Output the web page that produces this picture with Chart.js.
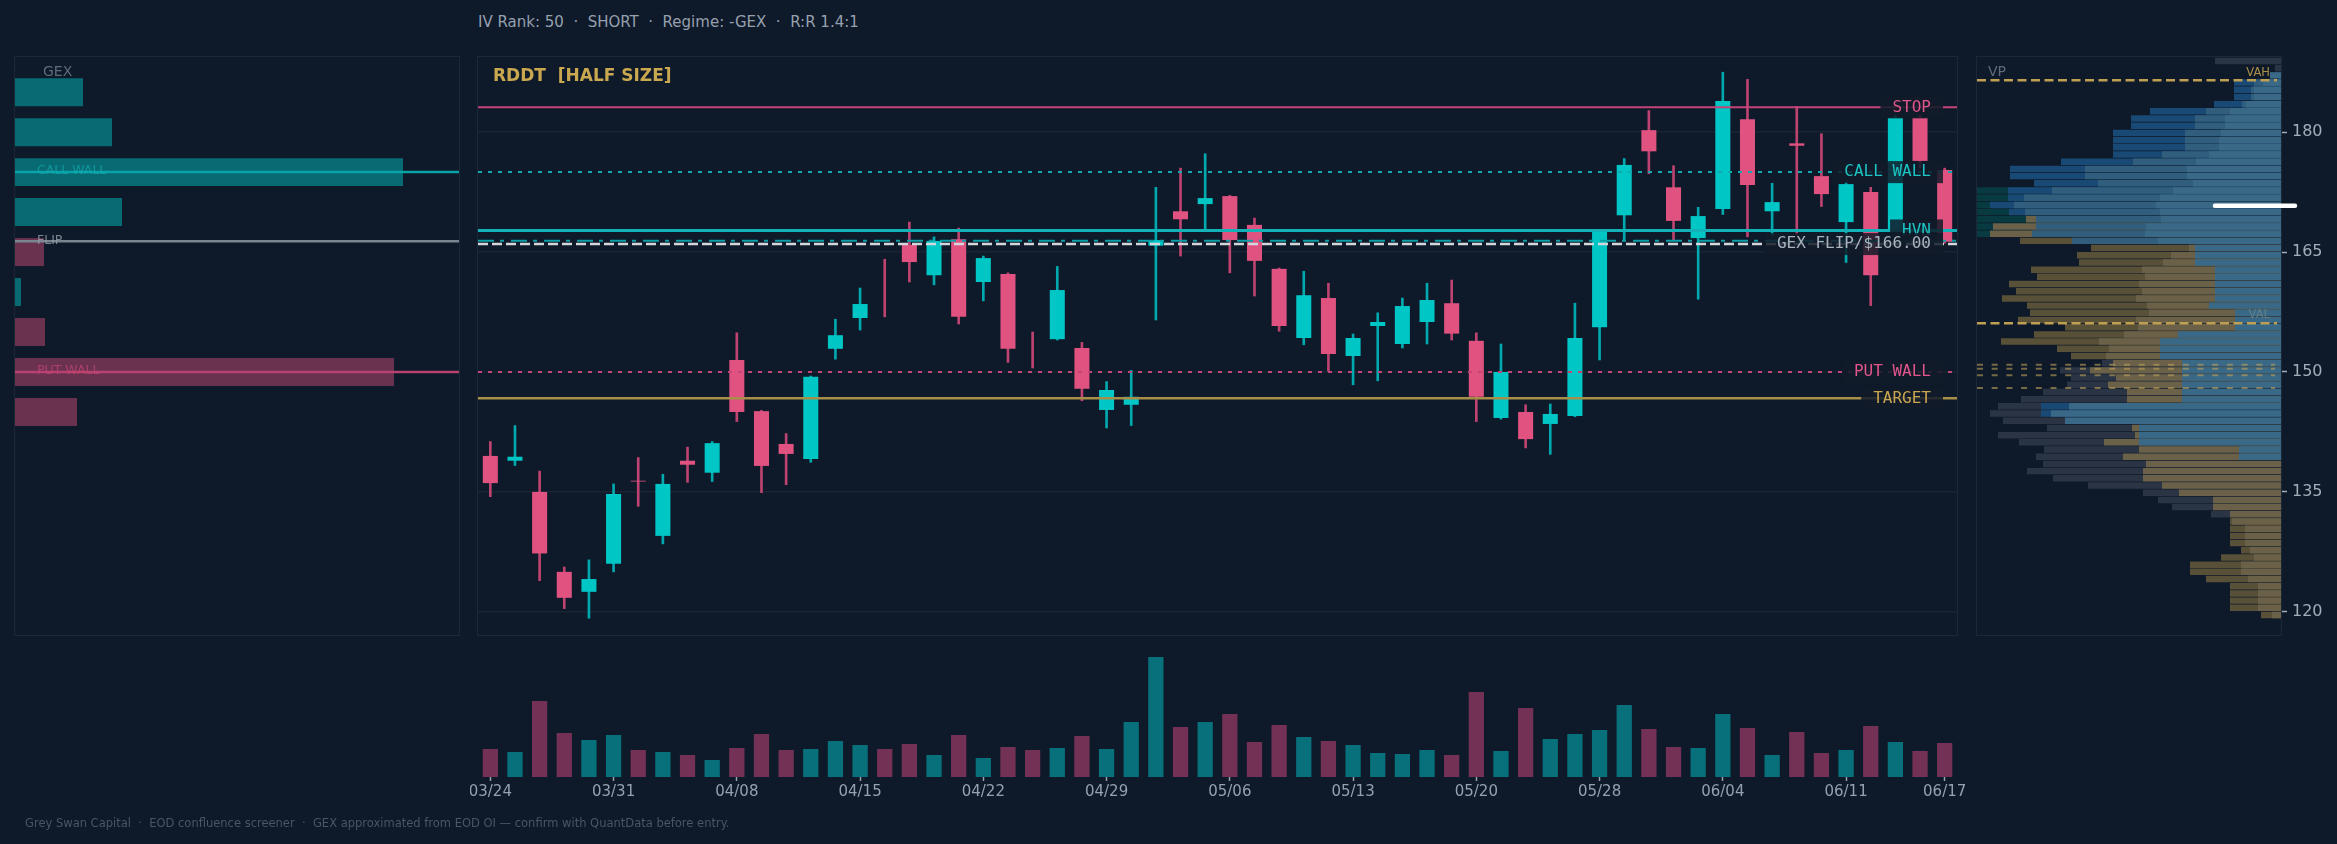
<!DOCTYPE html>
<html>
<head>
<meta charset="utf-8">
<title>RDDT confluence</title>
<script src="https://cdn.jsdelivr.net/npm/chart.js@4.4.1/dist/chart.umd.min.js"></script>
<style>
  html, body { margin: 0; padding: 0; background: #0e1929; }
  body { width: 2337px; height: 844px; position: relative; overflow: hidden; font-family: 'DejaVu Sans', sans-serif; }
  canvas { position: absolute; }
  #header { position: absolute; left: 478px; top: 13px; font-size: 15px; line-height: 18px; color: #96a0af; white-space: pre; }
  #footer { position: absolute; left: 25px; top: 816px; font-size: 11.5px; line-height: 14px; color: #4b5564; white-space: pre; }
</style>
</head>
<body>
<div id="header">IV Rank: 50  ·  SHORT  ·  Regime: -GEX  ·  R:R 1.4:1</div>
<canvas id="gex" width="470" height="590" style="left:0;top:50px"></canvas>
<canvas id="main" width="1495" height="590" style="left:470px;top:50px"></canvas>
<canvas id="vp" width="367" height="590" style="left:1970px;top:50px"></canvas>
<canvas id="vol" width="1495" height="204" style="left:470px;top:640px"></canvas>
<div id="footer">Grey Swan Capital  ·  EOD confluence screener  ·  GEX approximated from EOD OI — confirm with QuantData before entry.</div>

<script>
// ===============================
// Data
// ===============================

const title = "RDDT  [HALF SIZE]";

const dates = [
  "03/24","03/25","03/26","03/27","03/28","03/31","04/01","04/02","04/03","04/04",
  "04/08","04/09","04/10","04/11","04/14","04/15","04/16","04/17","04/18","04/21",
  "04/22","04/23","04/24","04/25","04/28","04/29","04/30","05/01","05/02","05/05",
  "05/06","05/07","05/08","05/09","05/12","05/13","05/14","05/15","05/16","05/19",
  "05/20","05/21","05/22","05/23","05/27","05/28","05/29","05/30","06/02","06/03",
  "06/04","06/05","06/06","06/09","06/10","06/11","06/12","06/13","06/16","06/17"
];
const tickDates = ["03/24","03/31","04/08","04/15","04/22","04/29","05/06","05/13","05/20","05/28","06/04","06/11","06/17"];

const opens = [
  139.5, 138.9, 135.0, 125.0, 122.5, 126.0, 136.4, 129.5, 138.9, 137.4,
  151.5, 145.1, 141.0, 139.1, 152.9, 156.75, 160.5, 165.9, 162.1, 166.6,
  161.25, 162.25, 152.8, 154.1, 153.0, 145.25, 145.9, 165.8, 170.1, 171.0,
  172.0, 168.4, 162.9, 154.25, 159.25, 152.0, 155.75, 153.5, 156.25, 158.6,
  153.9, 144.25, 145.0, 143.5, 144.5, 155.6, 169.6, 180.25, 173.1, 166.75,
  170.4, 181.6, 170.1, 178.6, 174.5, 168.75, 172.5, 167.9, 181.8, 175.25
];
const highs = [
  141.3, 143.3, 137.6, 125.6, 126.5, 136.0, 139.3, 137.2, 140.6, 141.3,
  154.9, 145.2, 142.3, 149.5, 156.6, 160.5, 164.1, 168.75, 166.9, 168.0,
  164.5, 162.4, 155.0, 163.2, 153.7, 148.8, 150.2, 173.1, 175.5, 177.3,
  172.1, 169.25, 163.0, 162.6, 161.1, 154.75, 157.4, 159.25, 161.1, 161.5,
  154.9, 153.5, 145.9, 146.0, 158.6, 167.7, 176.7, 182.7, 175.8, 170.6,
  187.5, 186.6, 173.6, 183.2, 179.8, 173.8, 173.1, 182.1, 182.1, 175.5
];
const lows = [
  134.4, 138.3, 123.9, 120.4, 119.2, 125.0, 133.2, 128.5, 136.2, 136.3,
  143.8, 134.9, 135.9, 138.7, 151.6, 155.25, 156.9, 161.25, 160.9, 156.0,
  158.9, 151.2, 150.5, 154.0, 146.4, 143.0, 143.3, 156.5, 164.5, 167.6,
  162.4, 159.5, 155.1, 153.4, 150.1, 148.4, 148.9, 153.0, 153.5, 154.0,
  143.8, 144.1, 140.5, 139.7, 144.4, 151.5, 166.4, 174.8, 166.5, 159.1,
  169.7, 166.9, 167.1, 167.1, 170.7, 163.7, 158.3, 167.75, 175.5, 166.1
];
const closes = [
  136.1, 139.4, 127.3, 121.75, 124.1, 134.75, 136.3, 136.0, 138.4, 141.1,
  145.0, 138.25, 139.75, 149.4, 154.6, 158.5, 160.5, 163.75, 166.4, 156.9,
  164.25, 152.9, 152.8, 160.25, 147.9, 147.75, 146.9, 166.5, 169.1, 171.75,
  166.5, 163.9, 155.75, 159.6, 152.25, 154.25, 156.25, 158.25, 159.0, 154.8,
  146.9, 150.0, 141.6, 144.75, 154.25, 167.6, 175.9, 177.6, 168.9, 169.5,
  183.9, 173.4, 171.25, 178.3, 172.25, 173.5, 162.1, 181.8, 176.4, 166.3
];
// volume, millions of shares
const volumes = [
  2.8, 2.5, 7.6, 4.4, 3.7, 4.2, 2.7, 2.5, 2.2, 1.7,
  2.9, 4.3, 2.7, 2.8, 3.6, 3.2, 2.8, 3.3, 2.2, 4.2,
  1.9, 3.0, 2.7, 2.9, 4.1, 2.8, 5.5, 12.0, 5.0, 5.5,
  6.3, 3.5, 5.2, 4.0, 3.6, 3.2, 2.4, 2.3, 2.7, 2.2,
  8.5, 2.6, 6.9, 3.8, 4.3, 4.7, 7.2, 4.8, 3.0, 2.9,
  6.3, 4.9, 2.2, 4.5, 2.4, 2.7, 5.1, 3.5, 2.6, 3.4
];

const priceTicks = [120, 135, 150, 165, 180];
const yMin = 117.1;
const yMax = 189.4;

// key levels on the price panel
const levelNames  = ["STOP", "CALL WALL", "HVN", "", "GEX FLIP/$166.00", "PUT WALL", "TARGET"];
const levelValues = [183.1, 175.0, 167.7, 166.4, 166.0, 150.0, 146.7];

// GEX by strike ($M, sign = call/put dominance)
const gexStrikes = [185, 180, 175, 170, 165, 160, 155, 150, 145];
const gexValues  = [6.8, 9.7, 38.8, 10.7, -2.9, 0.6, -3.0, -37.9, -6.2];
const gexLevelNames  = ["CALL WALL", "FLIP", "PUT WALL"];
const gexLevelValues = [175.0, 166.35, 150.0];

// volume profile, one row per price bin
const _ = null;
const vpPrices = [
  188.9, 188.0, 187.1, 186.2, 185.3, 184.4, 183.5, 182.6, 181.7, 180.8,
  179.9, 179.0, 178.1, 177.2, 176.3, 175.4, 174.5, 173.6, 172.7, 171.8,
  170.9, 170.0, 169.1, 168.2, 167.3, 166.4, 165.5, 164.6, 163.7, 162.8,
  161.9, 161.0, 160.1, 159.2, 158.3, 157.4, 156.5, 155.6, 154.7, 153.8,
  152.9, 152.0, 151.1, 150.2, 149.3, 148.4, 147.5, 146.6, 145.7, 144.8,
  143.9, 143.0, 142.1, 141.2, 140.3, 139.4, 138.5, 137.6, 136.7, 135.8,
  134.9, 134.0, 133.1, 132.2, 131.3, 130.4, 129.5, 128.6, 127.7, 126.8,
  125.9, 125.0, 124.1, 123.2, 122.3, 121.4, 120.5, 119.6
];
const vpGray = [
  66, 6, _, _, _, _, _, _, _, _,
  _, _, _, _, _, _, _, _, _, _,
  _, _, _, _, _, _, _, _, _, _,
  _, _, _, _, _, _, _, _, _, _,
  _, _, 179, 221, 210, 214, 238, 260, 283, 291,
  278, 234, 283, 262, 237, 245, 238, 254, 228, 193,
  138, 123, 109, 70, _, _, _, _, _, _,
  _, _, _, _, _, _, _, _
];
const vpKhakiDark = [
  _, _, _, _, _, _, _, _, _, _,
  _, _, _, _, _, _, _, _, _, _,
  _, _, _, _, _, 261, 190, 204, 202, 250,
  244, 272, 265, 279, 254, 251, 263, 216, 247, 280,
  224, 210, _, _, _, _, _, _, _, _,
  _, _, _, _, _, _, _, _, _, _,
  _, _, _, _, 51, 51, 51, 51, 40, 60,
  91, 91, 75, 51, 51, 51, 51, 20
];
const vpTeal = [
  _, _, _, _, _, _, _, _, _, _,
  _, _, _, _, _, _, _, _, 304, 304,
  304, 304, 304, 304, 304, _, _, _, _, _,
  _, _, _, _, _, _, _, _, _, _,
  _, _, _, _, _, _, _, _, _, _,
  _, _, _, _, _, _, _, _, _, _,
  _, _, _, _, _, _, _, _, _, _,
  _, _, _, _, _, _, _, _
];
const vpDarkBlue = [
  _, _, _, 47, 47, 47, 67, 131, 150, 150,
  168, 168, 168, 168, 220, 271, 271, 247, 273, 273,
  291, 272, _, _, _, _, _, _, _, _,
  _, _, _, _, _, _, _, _, _, _,
  _, _, _, _, _, _, _, _, 240, 240,
  _, _, _, _, _, _, _, _, _, _,
  _, _, _, _, _, _, _, _, _, _,
  _, _, _, _, _, _, _, _
];
const vpKhakiLight = [
  _, _, _, _, _, _, _, _, _, _,
  _, _, _, _, _, _, _, _, _, _,
  _, _, 255, 288, 291, _, 92, 110, 118, 139,
  136, 142, 139, 145, 134, 132, 145, 143, 157, 182,
  172, 175, 168, 191, 165, 173, 154, 154, _, _,
  _, 149, 146, 177, 142, 158, 135, 138, 138, 119,
  102, 68, 68, 51, 49, 36, 36, 36, 31, 27,
  40, 40, 33, 23, 23, 23, 23, 9
];
const vpMidBlue = [
  _, _, _, 27, 30, 30, 39, 75, 86, 86,
  96, 96, 96, 119, 148, 196, 196, 183, 229, 257,
  267, 256, 245, 245, 249, 209, _, _, _, _,
  _, _, _, _, _, _, _, _, _, _,
  _, _, _, _, _, _, _, _, _, _,
  _, _, _, _, _, _, _, _, _, _,
  _, _, _, _, _, _, _, _, _, _,
  _, _, _, _, _, _, _, _
];
const vpLightBlue = [
  _, _, 11, 18, 27, 27, 35, 51, 56, 56,
  60, 62, 62, 72, 85, 94, 94, 88, 108, 121,
  125, 121, 120, 135, 136, 123, 86, 86, 86, 66,
  66, 66, 66, 66, 72, 46, 46, 46, 103, 121,
  121, 121, 99, 99, 99, 99, 99, 99, 212, 230,
  216, 142, 142, 142, 42, 42, _, _, _, _,
  _, _, _, _, _, _, _, _, _, _,
  _, _, _, _, _, _, _, _
];
const vahValue = 186.5;
const valValue = 156.1;
const vpEntryLevels = [150.9, 150.4, 149.6, 148.0];
const lastMark = 170.8;

// ===============================
// Styles
// ===============================

Chart.defaults.font.family = "'DejaVu Sans', sans-serif";
Chart.defaults.color = "#96a0af";

const FRAME = "#1c2838";
const GRID = "#1a2534";
const UP = "#00c6c6", DOWN = "#e05381";
const UP_WICK = "#00a9ae", DOWN_WICK = "#bd4370";
const UP_VOL = "#08707a", DOWN_VOL = "#733255";

const levelStyles = [
  { color: "#c4447a", width: 2,   dash: [],            text: "#e0558a" },
  { color: "#13a9ae", width: 2,   dash: [4, 6],        text: "#1cc4c4" },
  { color: "#12b2b8", width: 3,   dash: [],            text: "#1cc4c4" },
  { color: "#0d9ea6", width: 2,   dash: [16, 6, 4, 7], text: null },
  { color: "#d3d7dc", width: 2.5, dash: [10, 4],       text: "#aab3bd" },
  { color: "#c4447a", width: 2,   dash: [4, 6],        text: "#e0558a" },
  { color: "#a78f4a", width: 2.5, dash: [],            text: "#c9a550" }
];
const gexLineColors = ["#0aa3a8", "#7a8592", "#b8426f"];
const gexTextColors = ["rgba(20,175,180,0.65)", "rgba(150,160,170,0.8)", "rgba(200,70,115,0.7)"];

const isUp = i => closes[i] > opens[i];

function hline(ctx, x0, x1, y, color, width, dash) {
  ctx.save();
  ctx.strokeStyle = color;
  ctx.lineWidth = width;
  ctx.setLineDash(dash);
  ctx.beginPath();
  ctx.moveTo(x0, y);
  ctx.lineTo(x1, y);
  ctx.stroke();
  ctx.restore();
}

const framePlugin = {
  id: "frame",
  beforeDatasetsDraw(chart) {
    const a = chart.chartArea, ctx = chart.ctx;
    ctx.save();
    ctx.strokeStyle = FRAME;
    ctx.lineWidth = 1;
    ctx.strokeRect(Math.round(a.left) - 0.5, Math.round(a.top) - 0.5, Math.round(a.width) + 1, Math.round(a.height) + 1);
    ctx.restore();
  }
};

const fixedPriceTicks = s => { s.ticks = priceTicks.map(v => ({ value: v })); };

const baseOpts = {
  animation: false,
  responsive: false,
  devicePixelRatio: 1,
  events: [],
  plugins: { legend: { display: false }, tooltip: { enabled: false } }
};

// ===============================
// Price panel
// ===============================

const mainLevelsPlugin = {
  id: "mainLevels",
  afterDatasetsDraw(chart) {
    const { ctx, chartArea: a } = chart;
    const y = chart.scales.y;
    levelValues.forEach((v, i) => {
      const st = levelStyles[i];
      hline(ctx, a.left, a.right, y.getPixelForValue(v), st.color, st.width, st.dash);
    });
    ctx.save();
    ctx.font = "16px 'DejaVu Sans Mono'";
    ctx.textAlign = "right";
    ctx.textBaseline = "middle";
    levelValues.forEach((v, i) => {
      const name = levelNames[i];
      if (!name) return;
      const py = y.getPixelForValue(v);
      const right = a.right - 26;
      const w = ctx.measureText(name).width;
      ctx.fillStyle = "rgba(17,27,41,0.85)";
      ctx.fillRect(right - w - 12, py - 11, w + 24, 22);
      ctx.fillStyle = levelStyles[i].text;
      ctx.fillText(name, right, py);
    });
    ctx.font = "bold 17px 'DejaVu Sans'";
    ctx.textAlign = "left";
    ctx.fillStyle = "#c9a84f";
    ctx.fillText(title, a.left + 15, a.top + 20);
    ctx.restore();
  }
};

new Chart(document.getElementById("main"), {
  type: "bar",
  data: {
    labels: dates,
    datasets: [
      {
        data: opens.map((o, i) => [o, closes[i]]),
        backgroundColor: dates.map((d, i) => isUp(i) ? UP : DOWN),
        borderWidth: 0,
        barPercentage: 0.61,
        categoryPercentage: 1,
        grouped: false,
        order: 0
      },
      {
        data: lows.map((l, i) => [l, highs[i]]),
        backgroundColor: dates.map((d, i) => isUp(i) ? UP_WICK : DOWN_WICK),
        borderWidth: 0,
        barThickness: 2,
        grouped: false,
        order: 1
      }
    ]
  },
  options: {
    ...baseOpts,
    layout: { padding: { left: 8, right: 8, top: 7, bottom: 5 } },
    scales: {
      x: { display: false, offset: true },
      y: {
        min: yMin, max: yMax,
        afterBuildTicks: fixedPriceTicks,
        afterFit: s => { s.width = 0; },
        ticks: { display: false },
        border: { display: false },
        grid: { color: GRID, lineWidth: 1.5, drawTicks: false }
      }
    }
  },
  plugins: [framePlugin, mainLevelsPlugin]
});

// ===============================
// Volume panel
// ===============================

new Chart(document.getElementById("vol"), {
  type: "bar",
  data: {
    labels: dates,
    datasets: [{
      data: volumes,
      backgroundColor: dates.map((d, i) => isUp(i) ? UP_VOL : DOWN_VOL),
      borderWidth: 0,
      barPercentage: 0.62,
      categoryPercentage: 1
    }]
  },
  options: {
    ...baseOpts,
    layout: { padding: { left: 8, right: 8, top: 5, bottom: 37 } },
    scales: {
      x: {
        offset: true,
        afterBuildTicks: s => { s.ticks = s.ticks.filter(t => tickDates.includes(dates[t.value])); },
        afterFit: s => { s.height = 30; s.paddingLeft = 0; s.paddingRight = 0; },
        ticks: { color: "#96a0af", font: { size: 15 }, autoSkip: false, maxRotation: 0, padding: 2 },
        grid: { offset: false, drawOnChartArea: false, drawTicks: true, tickLength: 4, tickColor: "#96a0af", tickWidth: 1.5 },
        border: { display: false }
      },
      y: { display: false, min: 0, max: 13.2 }
    }
  }
});

// ===============================
// GEX panel
// ===============================

const gexPlugin = {
  id: "gexLevels",
  afterDatasetsDraw(chart) {
    const { ctx, chartArea: a } = chart;
    const y = chart.scales.y;
    gexLevelValues.forEach((v, i) => {
      hline(ctx, a.left, a.right, y.getPixelForValue(v), gexLineColors[i], 2.5, []);
    });
    ctx.save();
    ctx.textAlign = "left";
    ctx.textBaseline = "middle";
    ctx.font = "12.5px 'DejaVu Sans'";
    gexLevelNames.forEach((n, i) => {
      ctx.fillStyle = gexTextColors[i];
      ctx.fillText(n, a.left + 22, y.getPixelForValue(gexLevelValues[i]) - 1);
    });
    ctx.font = "14px 'DejaVu Sans'";
    ctx.fillStyle = "#5f6b7a";
    ctx.fillText("GEX", a.left + 28, a.top + 15);
    ctx.restore();
  }
};

new Chart(document.getElementById("gex"), {
  type: "bar",
  data: {
    datasets: [{
      data: gexStrikes.map((s, i) => ({ x: Math.abs(gexValues[i]), y: s })),
      backgroundColor: gexValues.map(v => v >= 0 ? "#086a73" : "#6b3250"),
      borderWidth: 0,
      barPercentage: 0.7,
      categoryPercentage: 1
    }]
  },
  options: {
    ...baseOpts,
    indexAxis: "y",
    layout: { padding: { left: 15, right: 11, top: 7, bottom: 5 } },
    scales: {
      x: { display: false, min: 0, max: 44.4 },
      y: {
        display: false, type: "linear", min: yMin, max: yMax,
        offset: false, grid: { offset: false },
        afterBuildTicks: fixedPriceTicks
      }
    }
  },
  plugins: [framePlugin, gexPlugin]
});

// ===============================
// Volume profile panel
// ===============================

function vpSet(values, color, order) {
  return {
    data: vpPrices.map((p, i) => ({ x: values[i], y: p })).filter(d => d.x !== null),
    backgroundColor: color,
    borderWidth: 0,
    barPercentage: 0.9,
    categoryPercentage: 1,
    grouped: false,
    order: order
  };
}

const vpPlugin = {
  id: "vpLevels",
  afterDatasetsDraw(chart) {
    const { ctx, chartArea: a } = chart;
    const x = chart.scales.x, y = chart.scales.y;
    [vahValue, valValue].forEach(v => {
      hline(ctx, a.left, a.right - 4, y.getPixelForValue(v), "#bf9f52", 2.5, [9, 4.5]);
    });
    vpEntryLevels.forEach(v => {
      hline(ctx, a.left, a.right - 6, y.getPixelForValue(v), "rgba(190,160,90,0.6)", 2, [6, 8.7]);
    });
    ctx.save();
    ctx.textBaseline = "middle";
    ctx.font = "14px 'DejaVu Sans'";
    ctx.fillStyle = "#5f6b7a";
    ctx.textAlign = "left";
    ctx.fillText("VP", a.left + 11, a.top + 15);
    ctx.font = "11.5px 'DejaVu Sans'";
    ctx.textAlign = "right";
    ctx.fillStyle = "rgba(200,165,80,0.85)";
    ctx.fillText("VAH", a.right - 11, y.getPixelForValue(vahValue) - 7);
    ctx.fillStyle = "rgba(110,135,140,0.75)";
    ctx.fillText("VAL", a.right - 11, y.getPixelForValue(valValue) - 8);
    ctx.strokeStyle = "#ffffff";
    ctx.lineWidth = 4.5;
    ctx.lineCap = "round";
    ctx.beginPath();
    ctx.moveTo(x.getPixelForValue(66), y.getPixelForValue(lastMark));
    ctx.lineTo(a.right + 14, y.getPixelForValue(lastMark));
    ctx.stroke();
    ctx.restore();
  }
};

new Chart(document.getElementById("vp"), {
  type: "bar",
  data: {
    datasets: [
      vpSet(vpGray, "#2a3445", 7),
      vpSet(vpKhakiDark, "#585037", 6),
      vpSet(vpTeal, "#083a42", 5),
      vpSet(vpDarkBlue, "#194a76", 4),
      vpSet(vpKhakiLight, "#6a6148", 3),
      vpSet(vpMidBlue, "#325e7d", 2),
      vpSet(vpLightBlue, "#3a6987", 1)
    ]
  },
  options: {
    ...baseOpts,
    indexAxis: "y",
    layout: { padding: { left: 7, right: 0, top: 7, bottom: 5 } },
    scales: {
      x: { display: false, min: 0, max: 304, reverse: true },
      y: {
        type: "linear",
        position: "right",
        min: yMin, max: yMax,
        offset: false,
        afterBuildTicks: fixedPriceTicks,
        afterFit: s => { s.width = 56; s.paddingTop = 0; s.paddingBottom = 0; },
        ticks: { color: "#a3adba", font: { size: 16 }, padding: 5 },
        grid: { offset: false, drawOnChartArea: false, drawTicks: true, tickLength: 6, tickColor: "#a3adba", tickWidth: 1.5 },
        border: { display: true, color: FRAME }
      }
    }
  },
  plugins: [framePlugin, vpPlugin]
});
</script>
</body>
</html>
